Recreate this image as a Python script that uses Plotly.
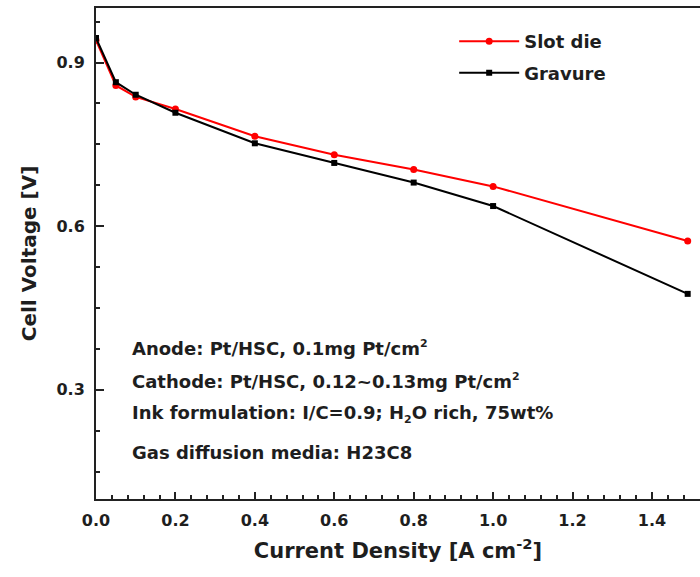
import plotly.graph_objects as go

current = [0.0, 0.05, 0.1, 0.2, 0.4, 0.6, 0.8, 1.0, 1.49]
slot_die = [0.941, 0.858, 0.837, 0.815, 0.765, 0.731, 0.704, 0.673, 0.573]
gravure = [0.945, 0.864, 0.841, 0.808, 0.752, 0.716, 0.680, 0.637, 0.476]

SUP2 = "<sup><span style='font-size:11px'>2</span></sup>"
SUB2 = "<sub><span style='font-size:11px'>2</span></sub>"
notes = [
    "Anode: Pt/HSC, 0.1mg Pt/cm" + SUP2,
    "Cathode: Pt/HSC, 0.12~0.13mg Pt/cm" + SUP2,
    "Ink formulation: I/C=0.9; H" + SUB2 + "O rich, 75wt%",
    "Gas diffusion media: H23C8",
]
note_y = [0.3075, 0.2403, 0.1731, 0.0957]

FONT = "DejaVu Sans"
INK = "#1e1e1e"

fig = go.Figure()
fig.add_trace(go.Scatter(
    x=current, y=slot_die, name="Slot die", mode="lines+markers",
    line=dict(color="#ff0000", width=2),
    marker=dict(symbol="circle", size=7, color="#ff0000"),
    legend="legend", showlegend=True,
))
fig.add_trace(go.Scatter(
    x=current, y=gravure, name="Gravure", mode="lines+markers",
    line=dict(color="#000000", width=2),
    marker=dict(symbol="square", size=6, color="#000000"),
    legend="legend2", showlegend=True,
))

for txt, yy in zip(notes, note_y):
    fig.add_annotation(
        text=txt, xref="paper", yref="paper",
        x=0.0563, y=yy, xanchor="left", yanchor="middle", showarrow=False,
        font=dict(family=FONT, size=18, color=INK, weight="bold"),
    )

legend_common = dict(
    font=dict(family=FONT, size=18, color=INK, weight="bold"),
    bgcolor="rgba(0,0,0,0)", itemwidth=60, xanchor="left", yanchor="middle",
    borderwidth=0,
)

fig.update_layout(
    width=700, height=577,
    margin=dict(l=96, r=0, t=8, b=78),
    paper_bgcolor="white", plot_bgcolor="white",
    font=dict(family=FONT, color=INK),
    showlegend=True,
    legend=dict(x=0.593, y=0.9317, **legend_common),
    legend2=dict(x=0.593, y=0.8676, **legend_common),
    xaxis=dict(
        range=[0, 1.521], tick0=0, dtick=0.2, tickformat=".1f",
        ticks="inside", ticklen=7, tickwidth=1.5, tickcolor="#222",
        minor=dict(ticks="inside", dtick=0.04, ticklen=4, tickwidth=1.5, tickcolor="#222"),
        showline=True, linecolor="#222", linewidth=2, mirror=True,
        showgrid=False, zeroline=False,
        tickfont=dict(family=FONT, size=16, color=INK, weight="bold"),
        ticklabelstandoff=6,
        title=dict(text="Current Density [A cm<sup>-2</sup>]",
                   font=dict(family=FONT, size=21, color=INK, weight="bold"), standoff=14),
    ),
    yaxis=dict(
        range=[0.1, 1.0], tick0=0.3, dtick=0.3, tickformat=".1f",
        ticks="inside", ticklen=8, tickwidth=1.5, tickcolor="#222",
        minor=dict(ticks="inside", dtick=0.075, tick0=0.3, ticklen=4, tickwidth=1.5, tickcolor="#222"),
        showline=True, linecolor="#222", linewidth=2, mirror=False,
        showgrid=False, zeroline=False,
        tickfont=dict(family=FONT, size=16, color=INK, weight="bold"),
        ticklabelstandoff=6,
        title=dict(text="Cell Voltage [V]",
                   font=dict(family=FONT, size=20, color=INK, weight="bold"), standoff=14),
    ),
)

fig.write_html("out.html")
